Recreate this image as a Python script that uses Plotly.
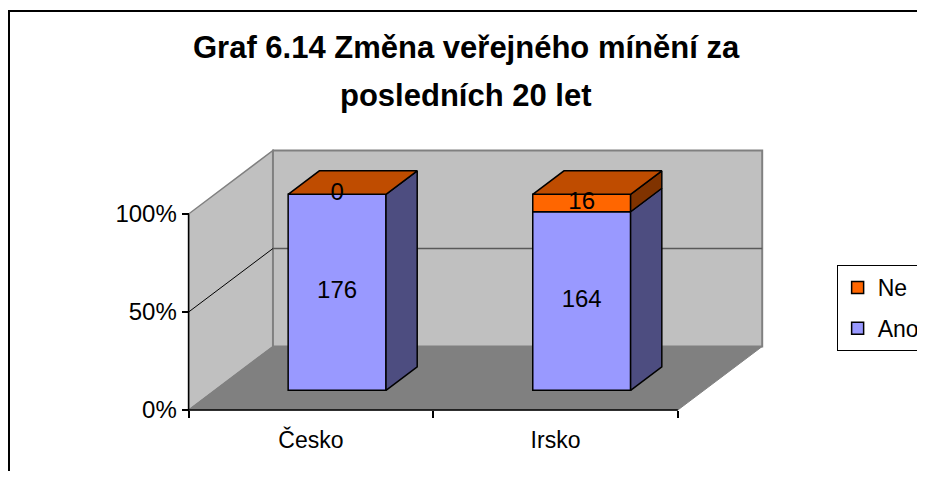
import plotly.graph_objects as go

# ---- data ----
categories = ["Česko", "Irsko"]
ano_counts = [176, 164]
ne_counts = [0, 16]
series_names = ["Ano", "Ne"]
y_tick_vals = [0, 50, 100]
y_tick_text = ["0%", "50%", "100%"]
title_lines = ["Graf 6.14 Změna veřejného mínění za", "posledních 20 let"]

# ---- colours ----
ANO_FRONT, ANO_SIDE = "#9999FF", "#4D4D80"
NE_FRONT, NE_SIDE, NE_TOP = "#FF6600", "#803300", "#BF4C00"
WALL, FLOOR, EDGE = "#C0C0C0", "#808080", "#808080"
FONT = "Liberation Sans, Arial, sans-serif"

# ---- geometry ----
PAGE_W, PAGE_H, OFF = 925, 479, 8          # page body margin of 8px
W, H = PAGE_W - OFF, PAGE_H - 2 * OFF


def px(p):  # page pixel -> figure pixel
    return p - OFF


AX_LEFT_PX, UNIT_PX = px(190.0), 246.5     # x=-0.5 at page 190px, 1 category = 246.5px
AX_ZERO_PX, PCT_PX = px(410.0), 1.96       # 0% at page 410px, 1% = 1.96px
x_range = [(0 - AX_LEFT_PX) / UNIT_PX - 0.5, (W - AX_LEFT_PX) / UNIT_PX - 0.5]
y_range = [(AX_ZERO_PX - H) / PCT_PX, AX_ZERO_PX / PCT_PX]

DX, DY = 85 / UNIT_PX, 63.5 / PCT_PX      # full depth of the 3D box
F0, F1 = 0.31, 0.37                       # bar front gap / bar depth (fractions)
BAR_W = 0.40
n = len(categories)
XL, XR = -0.5, n - 0.5

totals = [a + b for a, b in zip(ano_counts, ne_counts)]
ano_pct = [a / t * 100 for a, t in zip(ano_counts, totals)]
ne_pct = [b / t * 100 for b, t in zip(ne_counts, totals)]

fig = go.Figure()


def poly(pts):
    return "M " + " L ".join(f"{x},{y}" for x, y in pts) + " Z"


shapes = []
# left wall, back wall, floor
shapes.append(dict(type="path", xref="x", yref="y", layer="below",
                   path=poly([(XL, 0), (XL, 100), (XL + DX, 100 + DY), (XL + DX, DY)]),
                   fillcolor=WALL, line=dict(color=EDGE, width=1.5)))
shapes.append(dict(type="path", xref="x", yref="y", layer="below",
                   path=poly([(XL + DX, DY), (XL + DX, 100 + DY), (XR + DX, 100 + DY), (XR + DX, DY)]),
                   fillcolor=WALL, line=dict(color=EDGE, width=2)))
shapes.append(dict(type="path", xref="x", yref="y", layer="below",
                   path=poly([(XL, 0), (XL + DX, DY), (XR + DX, DY), (XR, 0)]),
                   fillcolor=FLOOR, line=dict(color=FLOOR, width=1)))
# 50% gridline on walls
shapes.append(dict(type="line", xref="x", yref="y", layer="below",
                   x0=XL, y0=50, x1=XL + DX, y1=50 + DY, line=dict(color="#000000", width=1)))
shapes.append(dict(type="line", xref="x", yref="y", layer="below",
                   x0=XL + DX, y0=50 + DY, x1=XR + DX, y1=50 + DY, line=dict(color="#595959", width=1.5)))
# front axis lines
shapes.append(dict(type="line", xref="x", yref="y", x0=XL, y0=0, x1=XL, y1=100,
                   line=dict(color="#000000", width=1.5)))
shapes.append(dict(type="line", xref="x", yref="y", x0=XL, y0=0, x1=XR, y1=0,
                   line=dict(color="#000000", width=1.5)))
# chart border
shapes.append(dict(type="rect", xref="paper", yref="paper", x0=1 / W, y0=-0.05, x1=1.02,
                   y1=1 - px(11) / H, line=dict(color="#000000", width=2), layer="below"))

sx, g = F0 * DX, F0 * DY
bdx, bdy = F1 * DX, F1 * DY
xs = list(range(n))

# front faces as bars
fig.add_trace(go.Bar(name=series_names[0], x=[i + sx for i in xs], y=ano_pct,
                     base=[g] * n, width=BAR_W, legendgroup="a", legendrank=2, hoverinfo="skip",
                     marker=dict(color=ANO_FRONT, line=dict(color="#000000", width=1.5))))
fig.add_trace(go.Bar(name=series_names[1], x=[i + sx for i in xs], y=ne_pct,
                     base=[g + a for a in ano_pct], width=BAR_W, legendgroup="b", legendrank=1,
                     hoverinfo="skip",
                     marker=dict(color=NE_FRONT, line=dict(color="#000000", width=1.5))))

# side + top faces
for i in xs:
    xl = i - BAR_W / 2 + sx
    xr = i + BAR_W / 2 + sx
    segs = [(0, ano_pct[i], ANO_SIDE), (ano_pct[i], ano_pct[i] + ne_pct[i], NE_SIDE)]
    for y0, y1, col in segs:
        if y1 - y0 <= 0:
            continue
        fig.add_trace(go.Scatter(
            x=[xr, xr + bdx, xr + bdx, xr, xr],
            y=[g + y0, g + y0 + bdy, g + y1 + bdy, g + y1, g + y0],
            fill="toself", fillcolor=col, mode="lines",
            line=dict(color="#000000", width=1.5), showlegend=False, hoverinfo="skip"))
    top = ano_pct[i] + ne_pct[i]
    fig.add_trace(go.Scatter(
        x=[xl, xl + bdx, xr + bdx, xr, xl],
        y=[g + top, g + top + bdy, g + top + bdy, g + top, g + top],
        fill="toself", fillcolor=NE_TOP, mode="lines",
        line=dict(color="#000000", width=1.5), showlegend=False, hoverinfo="skip"))

# data labels at segment centres
lab_x, lab_y, lab_t = [], [], []
for i in xs:
    lab_x += [i + sx, i + sx]
    lab_y += [g + ano_pct[i] / 2, g + ano_pct[i] + ne_pct[i] / 2]
    lab_t += [str(ano_counts[i]), str(ne_counts[i])]
fig.add_trace(go.Scatter(x=lab_x, y=lab_y, text=lab_t, mode="text",
                         textfont=dict(family=FONT, size=24, color="#000000"),
                         showlegend=False, hoverinfo="skip", cliponaxis=False))

annotations = [
    dict(text=f"<b>{title_lines[0]}</b>", x=px(470) / W, y=1 - px(48) / H, xref="paper", yref="paper",
         showarrow=False, font=dict(family=FONT, size=31, color="#000000"), yanchor="middle"),
    dict(text=f"<b>{title_lines[1]}</b>", x=px(470) / W, y=1 - px(95) / H, xref="paper", yref="paper",
         showarrow=False, font=dict(family=FONT, size=31, color="#000000"), yanchor="middle"),
]

fig.update_layout(
    width=W, height=H, margin=dict(l=0, r=0, t=0, b=0),
    paper_bgcolor="#FFFFFF", plot_bgcolor="rgba(0,0,0,0)",
    barmode="overlay", shapes=shapes, annotations=annotations,
    font=dict(family=FONT, size=23, color="#000000"),
    xaxis=dict(range=x_range, showgrid=False, zeroline=False, showline=False,
               tickmode="array", tickvals=xs, ticktext=categories,
               ticks="outside", ticklen=9, tickcolor="rgba(0,0,0,0)",
               minor=dict(tickmode="array", tickvals=[XL + k for k in range(n + 1)],
                          ticks="outside", ticklen=7, tickcolor="#000000", tickwidth=1.5),
               anchor="free", position=(H - AX_ZERO_PX) / H,
               tickfont=dict(family=FONT, size=23), fixedrange=True),
    yaxis=dict(range=y_range, showgrid=False, zeroline=False, showline=False,
               tickmode="array", tickvals=y_tick_vals, ticktext=y_tick_text,
               ticks="outside", ticklen=7, tickcolor="#000000", tickwidth=1.5,
               anchor="free", position=AX_LEFT_PX / W,
               tickfont=dict(family=FONT, size=24), fixedrange=True),
    legend=dict(x=px(843) / W, y=1 - px(265) / H, xanchor="left", yanchor="top",
                traceorder="grouped", bordercolor="#000000", borderwidth=1,
                bgcolor="#FFFFFF", font=dict(family=FONT, size=23),
                tracegroupgap=8),
    showlegend=True,
)

fig.write_html("out.html")
